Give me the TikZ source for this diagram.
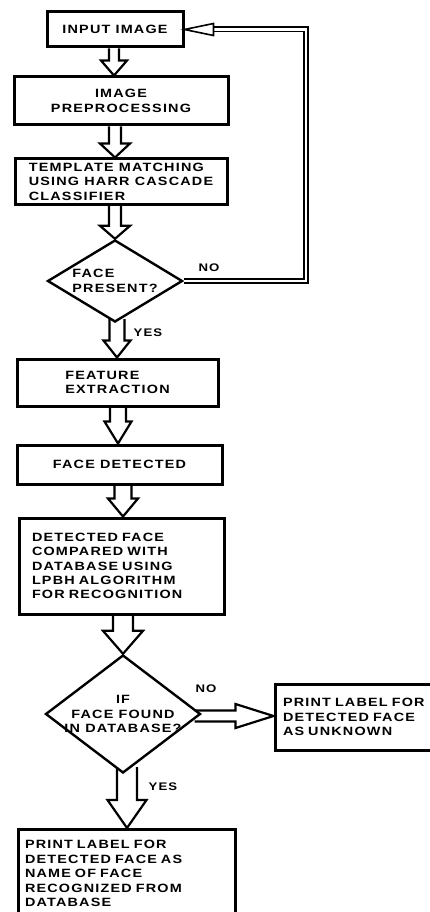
\documentclass[tikz,border=0pt]{standalone}
\usepackage{fontspec}
\usepackage{tikz}
\usetikzlibrary{calc,shapes.geometric}
\newfontfamily\flowfont{Liberation Sans}[FakeStretch=1.2,LetterSpace=10]

% hollow block arrows: #1 from, #2 to, #3 axis, #4 half shaft, #5 half head, #6 head length
\newcommand\blockdown[6]{%
 \draw[fcblock] let \p1=(#1), \p2=(#2), \p3=(#3,0) in
 (\x3-#4pt,\y1) -- (\x3-#4pt,\y2+#6pt) -- (\x3-#5pt,\y2+#6pt) -- (\x3,\y2)
 -- (\x3+#5pt,\y2+#6pt) -- (\x3+#4pt,\y2+#6pt) -- (\x3+#4pt,\y1);}
\newcommand\blockright[6]{%
 \draw[fcblock] let \p1=(#1), \p2=(#2), \p3=(0,#3) in
 (\x1,\y3+#4pt) -- (\x2-#6pt,\y3+#4pt) -- (\x2-#6pt,\y3+#5pt) -- (\x2,\y3)
 -- (\x2-#6pt,\y3-#5pt) -- (\x2-#6pt,\y3-#4pt) -- (\x1,\y3-#4pt);}

\begin{document}
\begin{tikzpicture}[
 x=1pt,y=-1pt,
 every node/.style={font=\flowfont\bfseries\fontsize{12}{14.4}\selectfont,inner sep=0pt},
 fcbox/.style={draw,line width=3pt,align=left},
 fcdecide/.style={draw,diamond,line width=2.4pt,align=left},
 fcblock/.style={draw,line width=2.2pt,line join=miter},
 fcloop/.style={draw,double,double distance=2.8pt,line width=1.6pt},
 fchead/.style={draw,fill=white,line width=1.6pt,line join=miter},
 fclabel/.style={font=\flowfont\bfseries\fontsize{11}{12}\selectfont}]
\useasboundingbox (0,0) rectangle (430,912);
\clip (0,0) rectangle (430,912);
\node[fcbox,align=center,minimum width=136pt,minimum height=35pt] (inp) at (115,29.5) {INPUT IMAGE};
\node[fcbox,align=center,minimum width=214pt,minimum height=48pt] (prep) at (121,101) {IMAGE\\PREPROCESSING};
\node[fcbox,minimum width=212pt,minimum height=45pt] (tmpl) at (121,181.5)
 {TEMPLATE MATCHING\\USING HARR CASCADE\\CLASSIFIER};
\node[fcdecide,aspect=1.65,minimum width=135pt,minimum height=82pt] (dia1) at (115,281) {FACE\\PRESENT?};
\node[fcbox,minimum width=201pt,minimum height=47pt] (feat) at (117.5,382.5) {FEATURE\\EXTRACTION};
\node[fcbox,align=center,minimum width=205pt,minimum height=39pt] (fdet) at (119.5,464.5) {FACE DETECTED};
\node[fcbox,text width=179pt,inner xsep=13pt,minimum height=96pt] (comp) at (121.5,566)
 {DETECTED FACE\\COMPARED WITH\\DATABASE USING\\LPBH ALGORITHM\\FOR RECOGNITION};
\node[fcdecide,align=center,minimum width=155pt,minimum height=118pt] (dia2) at (123,714)
 {\makebox[0pt]{IF}\\\makebox[0pt]{FACE FOUND}\\\makebox[0pt]{IN DATABASE?}};
\node[fcbox,text width=160pt,inner xsep=8pt,minimum height=66pt] (unk) at (363,717)
 {PRINT LABEL FOR\\DETECTED FACE\\AS UNKNOWN};
\node[fcbox,anchor=north,text width=203pt,inner xsep=7pt,inner ysep=11pt] (fin) at (126.5,828)
 {PRINT LABEL FOR\\DETECTED FACE AS\\NAME OF FACE\\RECOGNIZED FROM\\DATABASE};
\node[fclabel] (no1) at (209,268) {NO};
\node[fclabel] (yes1) at (148,333) {YES};
\node[fclabel] (no2) at (206,689) {NO};
\node[fclabel] (yes2) at (163,787) {YES};
\blockdown{inp.south}{prep.north}{114}{5}{13}{15}
\blockdown{prep.south}{tmpl.north}{115}{6}{15}{14}
\blockdown{tmpl.south}{dia1.north}{115}{6}{15}{13}
\blockdown{$(dia1.south)+(0,-4)$}{feat.north}{117}{7.5}{13.5}{17}
\blockdown{feat.south}{fdet.north}{118}{8}{13.5}{22}
\blockdown{fdet.south}{comp.north}{123}{8.5}{15}{18}
\blockdown{comp.south}{dia2.north}{123}{10}{20}{23}
\blockright{$(dia2.east)+(-7,0)$}{unk.west}{716}{5.5}{12}{38}
\blockdown{$(dia2.south)+(0,-7)$}{fin.north}{127}{10}{19.5}{28}
\coordinate (loop) at (306,0);
\draw[fcloop] (dia1.east) -| (loop |- inp.east) -- ($(inp.east)+(29,0)$);
\draw[fchead] (inp.east) -- ++(29,-6) -- ++(0,12) -- cycle;
\end{tikzpicture}
\end{document}
